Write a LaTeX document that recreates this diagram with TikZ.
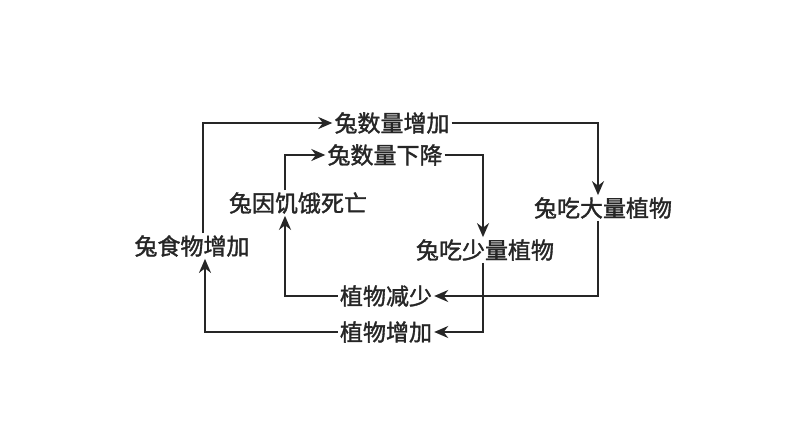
\documentclass[tikz,border=0pt]{standalone}
\usepackage{fontspec}
\newfontfamily\cjk[FakeBold=1.5]{Noto Sans CJK SC}
\usetikzlibrary{arrows.meta}
\begin{document}
\begin{tikzpicture}[x=1pt,y=-1pt,
  lbl/.style={font=\cjk\fontsize{23}{26}\selectfont, inner sep=2pt, text=black!85},
  arr/.style={draw=black!85, line width=2pt, -{Stealth[length=14pt,width=12pt]}}]
\useasboundingbox[fill=white] (0,0) rectangle (794,447);
\node[lbl] (a) at (392,123) {兔数量增加};
\node[lbl] (b) at (385,155) {兔数量下降};
\node[lbl] (c) at (298,203) {兔因饥饿死亡};
\node[lbl] (d) at (603,208) {兔吃大量植物};
\node[lbl] (e) at (192,246) {兔食物增加};
\node[lbl] (f) at (485,250) {兔吃少量植物};
\node[lbl] (g) at (386,296) {植物减少};
\node[lbl] (h) at (386,332) {植物增加};
\draw[arr] (e.north -| 203,0) |- (a.west);
\draw[arr] (a.east) -| (598,0 |- d.north);
\draw[arr] (598,0 |- d.south) |- (g.east);
\draw[arr] (g.west) -| (285,0 |- c.south);
\draw[arr] (285,0 |- c.north) |- (b.west);
\draw[arr] (b.east) -| (483,0 |- f.north);
\draw[arr] (483,0 |- f.south) |- (h.east);
\draw[arr] (h.west) -| (205,0 |- e.south);
\end{tikzpicture}
\end{document}
